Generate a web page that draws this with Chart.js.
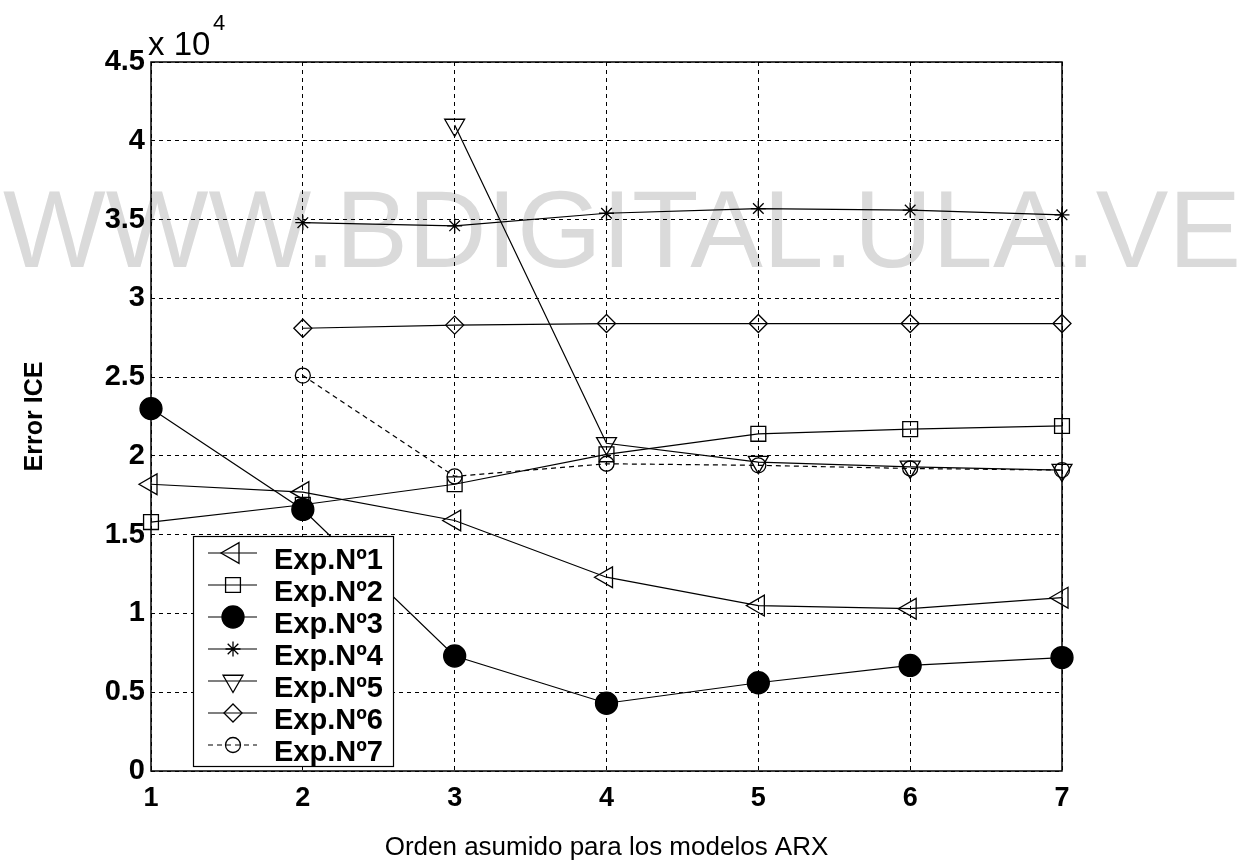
<!DOCTYPE html>
<html><head><meta charset="utf-8">
<script src="https://cdn.jsdelivr.net/npm/chart.js@4.4.0/dist/chart.umd.min.js"></script>
<style>html,body{margin:0;padding:0;background:#fff;} #wrap{width:1243px;height:863px;position:relative;}</style>
</head><body><div id="wrap"><canvas id="c" width="1243" height="863"></canvas></div>
<script>
// ---- data (values in ICE error units; axis shows x 10^4) ----
const orders = [1, 2, 3, 4, 5, 6, 7];
const exp1 = [18200, 17700, 15900, 12300, 10500, 10300, 11000];
const exp2 = [15800, 16900, 18200, 20100, 21400, 21700, 21900];
const exp3 = [23000, 16600, 7300, 4300, 5600, 6700, 7200];
const exp4 = [null, 34800, 34600, 35400, 35700, 35600, 35300];
const exp5 = [null, null, 41000, 20800, 19600, 19300, 19100];
const exp6 = [null, 28100, 28300, 28400, 28400, 28400, 28400];
const exp7 = [null, 25100, 18700, 19500, 19400, 19200, 19100];
const seriesNames = ['Exp.Nº1', 'Exp.Nº2', 'Exp.Nº3', 'Exp.Nº4', 'Exp.Nº5', 'Exp.Nº6', 'Exp.Nº7'];
const yTickLabels = ['0', '0.5', '1', '1.5', '2', '2.5', '3', '3.5', '4', '4.5'];
const xTickLabels = ['1', '2', '3', '4', '5', '6', '7'];
const yExponentText = 'x 10';
const yExponentPower = '4';
const xTitle = 'Orden asumido para los modelos ARX';
const yTitle = 'Error ICE';
const watermarkText = 'WWW.BDIGITAL.ULA.VE';

const FONT = "'Liberation Sans', Arial, sans-serif";

function pts(arr) {
  const out = [];
  arr.forEach((v, i) => { if (v !== null) out.push({x: orders[i], y: v}); });
  return out;
}

const styles = [
  {pointStyle: 'triangle', pointRotation: -90, pointRadius: 12, fill: 'rgba(0,0,0,0)'},
  {pointStyle: 'rect', pointRotation: 0, pointRadius: 10.5, fill: 'rgba(0,0,0,0)'},
  {pointStyle: 'circle', pointRotation: 0, pointRadius: 11, fill: '#000', order: -1},
  {pointStyle: 'star', pointRotation: 0, pointRadius: 7.5, fill: 'rgba(0,0,0,0)'},
  {pointStyle: 'triangle', pointRotation: 180, pointRadius: 11.5, fill: 'rgba(0,0,0,0)'},
  {pointStyle: 'rectRot', pointRotation: 0, pointRadius: 9, fill: 'rgba(0,0,0,0)'},
  {pointStyle: 'circle', pointRotation: 0, pointRadius: 7.5, fill: 'rgba(0,0,0,0)', dash: [5, 4]}
];
const allSeries = [exp1, exp2, exp3, exp4, exp5, exp6, exp7];

const datasets = allSeries.map((s, i) => ({
  label: seriesNames[i],
  data: pts(s),
  borderColor: '#000',
  borderWidth: 1.2,
  borderDash: styles[i].dash || [],
  pointStyle: styles[i].pointStyle,
  pointRotation: styles[i].pointRotation,
  pointRadius: styles[i].pointRadius,
  pointHoverRadius: styles[i].pointRadius,
  pointBorderWidth: 1.3,
  pointBorderColor: '#000',
  pointBackgroundColor: styles[i].fill,
  tension: 0,
  fill: false,
  clip: false,
  order: styles[i].order || 0
}));

const watermarkPlugin = {
  id: 'watermark',
  beforeDraw(chart) {
    const ctx = chart.ctx;
    ctx.save();
    ctx.font = '110px ' + FONT;
    const w = ctx.measureText(watermarkText).width;
    const target = 1238;
    ctx.translate(3, 267);
    ctx.scale(target / w, 1);
    ctx.fillStyle = '#dadada';
    ctx.textBaseline = 'alphabetic';
    ctx.textAlign = 'left';
    ctx.fillText(watermarkText, 0, 0);
    ctx.restore();
  }
};

const framePlugin = {
  id: 'frame',
  afterDatasetsDraw(chart) {
    const ctx = chart.ctx;
    const a = chart.chartArea;
    ctx.save();
    ctx.strokeStyle = '#000';
    ctx.lineWidth = 1.5;
    ctx.setLineDash([]);
    ctx.strokeRect(a.left, a.top, a.right - a.left, a.bottom - a.top);
    // exponent label
    ctx.fillStyle = '#000';
    ctx.textBaseline = 'alphabetic';
    ctx.textAlign = 'left';
    ctx.font = '33px ' + FONT;
    ctx.fillText(yExponentText, 148, 55);
    ctx.font = '22px ' + FONT;
    ctx.fillText(yExponentPower, 213, 30);

    // legend
    const bx = 193, by = 536, bw = 200, bh = 230;
    ctx.fillStyle = '#fff';
    ctx.fillRect(bx, by, bw, bh);
    ctx.lineWidth = 1.2;
    ctx.strokeStyle = '#000';
    ctx.strokeRect(bx + 0.5, by + 0.5, bw, bh);
    chart.data.datasets.forEach((ds, i) => {
      const y = 553 + i * 32;
      ctx.save();
      ctx.strokeStyle = '#000';
      ctx.lineWidth = 1.2;
      ctx.setLineDash(ds.borderDash || []);
      ctx.beginPath(); ctx.moveTo(208, y); ctx.lineTo(257, y); ctx.stroke();
      ctx.setLineDash([]);
      ctx.fillStyle = ds.pointBackgroundColor;
      ctx.strokeStyle = '#000';
      ctx.lineWidth = ds.pointBorderWidth;
      Chart.helpers.drawPoint(ctx, {pointStyle: ds.pointStyle, rotation: ds.pointRotation, radius: ds.pointRadius, borderWidth: ds.pointBorderWidth}, 233, y);
      ctx.restore();
      ctx.fillStyle = '#000';
      ctx.font = 'bold 29px ' + FONT;
      ctx.textBaseline = 'alphabetic';
      ctx.fillText(ds.label, 274, y + 16);
    });
    ctx.restore();
  }
};

new Chart(document.getElementById('c'), {
  type: 'line',
  data: {datasets},
  options: {
    responsive: false,
    devicePixelRatio: 1,
    animation: false,
    layout: {padding: {left: 0, top: 62, right: 181, bottom: 0}},
    plugins: {legend: {display: false}, tooltip: {enabled: false}},
    scales: {
      x: {
        type: 'linear', min: 1, max: 7,
        afterFit(s) { s.height = 92; },
        ticks: {stepSize: 1, color: '#000', padding: 11, font: {family: FONT, size: 27, weight: 'bold'},
          callback: (v) => xTickLabels[orders.indexOf(v)] ?? ''},
        grid: {color: '#000', lineWidth: 1, drawTicks: false},
        border: {display: false, dash: [4, 4]},
        title: {display: true, text: xTitle, color: '#000', font: {family: FONT, size: 26}, padding: {top: 0, bottom: 0}}
      },
      y: {
        type: 'linear', min: 0, max: 45000,
        afterFit(s) { s.width = 151; },
        ticks: {stepSize: 5000, color: '#000', padding: 6, font: {family: FONT, size: 29, weight: 'bold'},
          callback: (v) => yTickLabels[Math.round(v / 5000)] ?? ''},
        grid: {color: '#000', lineWidth: 1, drawTicks: false},
        border: {display: false, dash: [4, 4]},
        title: {display: true, text: yTitle, color: '#000', font: {family: FONT, size: 25, weight: 'bold'}, padding: {top: 20, bottom: 0}}
      }
    }
  },
  plugins: [watermarkPlugin, framePlugin]
});
</script>
</body></html>
